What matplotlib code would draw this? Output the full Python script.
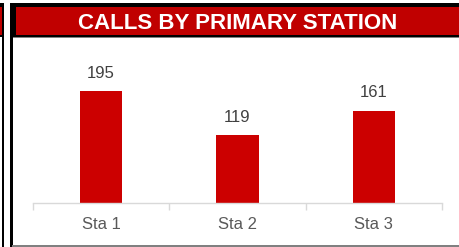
import matplotlib
matplotlib.use("Agg")
import matplotlib.pyplot as plt
from matplotlib.patches import Rectangle

stations = ["Sta 1", "Sta 2", "Sta 3"]
calls = [195, 119, 161]

W, H = 459, 247
RED = "#CC0000"

plt.rcParams["font.family"] = ["Liberation Sans", "DejaVu Sans"]

fig = plt.figure(figsize=(W / 100, H / 100), dpi=100)


def box(x0, y0, x1, y1, color):
    # rectangle given in pixel coords, origin at top-left
    fig.patches.append(Rectangle((x0 / W, 1 - y1 / H), (x1 - x0) / W, (y1 - y0) / H,
                                 transform=fig.transFigure, color=color, lw=0, zorder=0))


# neighbouring panel cut off at left
box(0, 3, 4, 37, "black")
box(0, 7, 2, 35, "#C00000")
box(2, 37, 4, 247, "black")

# title bar
box(13, 3, W, 37, "black")
box(16, 7, W, 35, "#C00000")
box(13, 37, W, 38, "#808080")

# chart frame
box(10, 3, 13, 247, "black")
box(12, 245, W, 247, "#808080")

fig.text(238 / W, 1 - 29 / H, "CALLS BY PRIMARY STATION", color="white",
         fontsize=16, fontweight="bold", ha="center", va="baseline")

# axes: baseline at y=203, x from 33 to 442
ax = fig.add_axes([33 / W, 1 - 203 / H, (442 - 33) / W, (203 - 60) / H])
x = range(len(stations))
bars = ax.bar(x, calls, width=0.31, color=RED, zorder=2)
ax.set_xlim(-0.5, len(stations) - 0.5)
ax.set_ylim(0, 250)

for xi, v in zip(x, calls):
    ax.annotate(str(v), (xi, v), xytext=(0, 7.5), textcoords="offset points",
                ha="center", va="bottom", fontsize=12, color="#404040")

for s in ["top", "right", "left"]:
    ax.spines[s].set_visible(False)
ax.spines["bottom"].set_color("#D9D9D9")
ax.spines["bottom"].set_linewidth(1)
ax.set_yticks([])
ax.set_xticks([-0.5, 0.5, 1.5, 2.5], minor=False)
ax.set_xticklabels([])
ax.tick_params(axis="x", length=5, color="#D9D9D9", width=1)
ax.set_xticks(list(x), minor=True)
ax.set_xticklabels(stations, minor=True)
ax.tick_params(axis="x", which="minor", length=0, pad=10, labelsize=12, labelcolor="#595959")
ax.patch.set_alpha(0)

fig.savefig("out.png", dpi=100)
